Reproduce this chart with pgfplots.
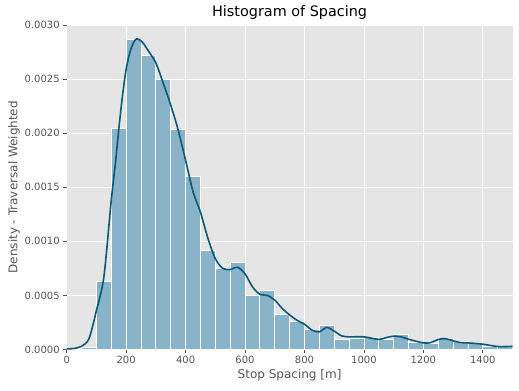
\documentclass[border=0pt]{standalone}
\usepackage{pgfplots}
\pgfplotsset{compat=1.18}
\usepackage{fontspec}
\setmainfont{DejaVu Sans}
\definecolor{bgc}{HTML}{E5E5E5}
\definecolor{tickc}{HTML}{555555}
\definecolor{barc}{HTML}{88B3C9}
\definecolor{linec}{HTML}{0B5879}
\begin{document}
\begin{tikzpicture}
\path[use as bounding box] (-66.7bp,-41.5bp) rectangle (452.3bp,349.5bp);
\begin{axis}[
  at={(0,0)}, anchor=south west,
  width=445.8bp, height=324.5bp, scale only axis,
  xmin=0, xmax=1500, ymin=0, ymax=0.003,
  xtick={0,200,400,600,800,1000,1200,1400},
  ytick={0,0.0005,0.001,0.0015,0.002,0.0025,0.003},
  scaled y ticks=false,
  xticklabel style={/pgf/number format/.cd, set thousands separator={}},
  yticklabel style={/pgf/number format/.cd, fixed, fixed zerofill, precision=4},
  /pgf/number format/assume math mode=true,
  ticklabel style={font=\fontsize{10bp}{12bp}\selectfont, text=tickc},
  tick style={draw=tickc, line width=0.8bp},
  tick align=outside, major tick length=3.5bp,
  xtick pos=bottom, ytick pos=left,
  axis background/.style={fill=bgc},
  axis line style={draw=none},
  grid=major, major grid style={draw=white, line width=0.8bp},
  xlabel={Stop Spacing [m]}, ylabel={Density - Traversal Weighted},
  label style={font=\fontsize{12bp}{14bp}\selectfont, text=tickc},
  xlabel style={yshift=2bp},
  ylabel style={yshift=-2bp},
  title={Histogram of Spacing},
  title style={font=\fontsize{14.4bp}{16bp}\selectfont, yshift=-4bp},
]
\addplot[ybar interval, fill=barc, draw=white, line width=0.8bp] coordinates {
(0,0.000008) (50,0.000015) (100,0.000626) (150,0.002046) (200,0.002864)
(250,0.002719) (300,0.002496) (350,0.002037) (400,0.001602) (450,0.000913)
(500,0.000746) (550,0.000802) (600,0.000496) (650,0.000543) (700,0.000320)
(750,0.000256) (800,0.000185) (850,0.000225) (900,0.000093) (950,0.000105)
(1000,0.000111) (1050,0.000093) (1100,0.000142) (1150,0.000068) (1200,0.000053)
(1250,0.000102) (1300,0.000074) (1350,0.000053) (1400,0.000031) (1450,0.000040)
(1500,0.000040)};
\addplot[smooth, color=linec, line width=1.6bp, tension=0.5] coordinates {
(0,0.000005) (25,0.00001) (50,0.00003) (75,0.0001) (100,0.00036) (125,0.00067)
(150,0.00138) (165,0.00175) (175,0.00203) (187.5,0.00234) (200,0.00259)
(215,0.00277) (230,0.00286) (240,0.00287) (255,0.00284) (275,0.00276)
(300,0.00265) (325,0.00246) (350,0.00226) (375,0.00203) (400,0.00175)
(425,0.00146) (450,0.00127) (475,0.00103) (500,0.00084) (525,0.00075)
(550,0.00074) (575,0.00076) (600,0.00070) (625,0.00058) (650,0.00051)
(675,0.00050) (700,0.000457) (725,0.00038) (750,0.00032) (775,0.00027)
(800,0.000234) (825,0.00018) (850,0.000163) (875,0.000204) (900,0.00017)
(925,0.000126) (950,0.000117) (1000,0.000117) (1050,0.000093) (1075,0.00011)
(1100,0.000123) (1125,0.000117) (1150,0.000095) (1200,0.000061) (1225,0.000064)
(1250,0.000093) (1275,0.0001) (1300,0.00008) (1325,0.000064) (1350,0.000061)
(1400,0.000049) (1450,0.000028) (1500,0.00003)};
\end{axis}
\end{tikzpicture}
\end{document}
